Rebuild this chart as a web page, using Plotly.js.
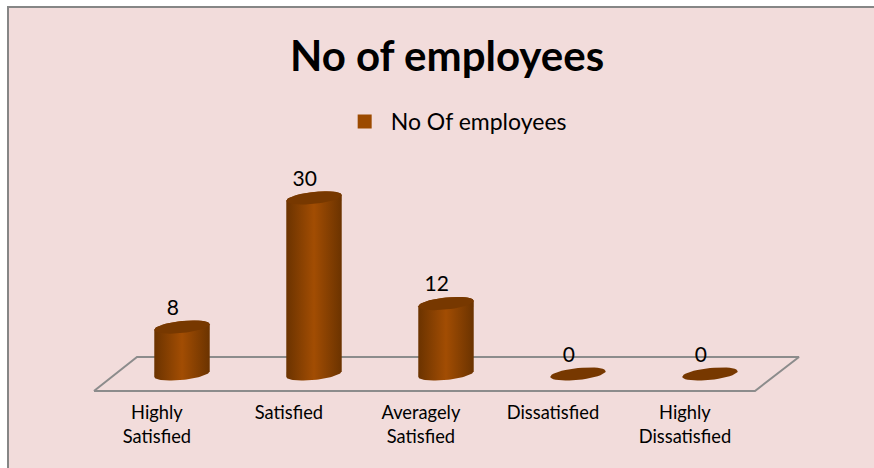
<!DOCTYPE html>
<html>
<head>
<meta charset="utf-8">
<script src="https://cdn.plot.ly/plotly-3.0.1.min.js"></script>
<style>
  html, body { margin: 0; padding: 0; background: #fff; overflow: hidden; }
  #frame { position: absolute; left: 7px; top: 6px; border-left: 2px solid #868686; border-top: 2px solid #868686; }
  #chart { width: 865px; height: 460px; }
</style>
</head>
<body>
<div id="frame"><div id="chart"></div></div>
<script>
const categories = ["Highly Satisfied", "Satisfied", "Averagely Satisfied", "Dissatisfied", "Highly Dissatisfied"];
const categoryLabels = ["Highly<br>Satisfied", "Satisfied", "Averagely<br>Satisfied", "Dissatisfied", "Highly<br>Dissatisfied"];
const employees = [8, 30, 12, 0, 0];
const seriesName = "No Of employees";

// Cylinder geometry, in axis units
const halfWidth = 0.21;
const rimHeight = 1.02;
const rimSkew = 0.48;
const steps = 40;

const bodyShade = [[0, "#6b3300"], [0.5, "#a24d03"], [1, "#6b3300"]];
const capColor = "#773800";

// Point on a tilted rim; angle 0 is the right end, PI/2 the back of the rim
function rimPoint(cx, level, angle) {
  return [cx + halfWidth * Math.cos(angle), level + rimHeight * Math.sin(angle) + rimSkew * Math.cos(angle)];
}

function arc(cx, level, from, to) {
  const pts = [];
  for (let i = 0; i <= steps; i++) pts.push(rimPoint(cx, level, from + (to - from) * i / steps));
  return pts;
}

function polygonTrace(pts, extra) {
  return Object.assign({
    type: "scatter", mode: "lines", fill: "toself", hoverinfo: "skip", showlegend: false,
    x: pts.map(p => p[0]), y: pts.map(p => p[1]), line: { width: 0 }
  }, extra);
}

const traces = [];

// Floor of the plot, a flat parallelogram behind the columns
traces.push({
  type: "scatter", mode: "lines", hoverinfo: "skip", showlegend: false,
  x: [-0.667, -0.341, 4.674, 4.341, -0.667],
  y: [-2.9, 2.9, 2.9, -2.9, -2.9],
  line: { color: "#8c8c8c", width: 2 }
});

// Columns: body with a horizontal shade, then the darker top rim
employees.forEach((value, i) => {
  if (value > 0) {
    const body = arc(i, value, 0, Math.PI).concat(arc(i, 0, Math.PI, 2 * Math.PI));
    body.push(body[0]);
    traces.push(polygonTrace(body, {
      fillgradient: { type: "horizontal", colorscale: bodyShade, start: i - halfWidth, stop: i + halfWidth }
    }));
  }
  traces.push(polygonTrace(arc(i, value, 0, 2 * Math.PI), { fillcolor: capColor }));
});

// Value labels above each column
traces.push({
  type: "scatter", mode: "text", hoverinfo: "skip", showlegend: false,
  x: employees.map((v, i) => i - 0.07),
  y: employees.map(v => v + 2.95),
  text: employees.map(String),
  textposition: "middle center",
  textfont: { family: "Lato, Carlito, sans-serif", size: 21, color: "#000" }
});

// Legend entry for the series
traces.push({
  type: "scatter", mode: "markers", name: seriesName, hoverinfo: "skip",
  x: [null], y: [null],
  marker: { symbol: "square", size: 14, color: "#9c4a00" }
});

const layout = {
  width: 865, height: 460,
  margin: { l: 0, r: 0, t: 0, b: 68, pad: 0 },
  paper_bgcolor: "#f2dcdb",
  plot_bgcolor: "rgba(0,0,0,0)",
  title: {
    text: "<b>No of employees</b>",
    font: { family: "Lato, Carlito, sans-serif", size: 42, color: "#000" },
    x: 0.5064, xref: "paper", xanchor: "center",
    y: 0.894, yref: "container", yanchor: "middle"
  },
  showlegend: true,
  legend: {
    x: 0.395, y: 1 - 92 / 392, xanchor: "left", yanchor: "top",
    bgcolor: "rgba(0,0,0,0)",
    font: { family: "Lato, Carlito, sans-serif", size: 23, color: "#000" }
  },
  xaxis: {
    range: [-1.3106, 5.2424], showgrid: false, zeroline: false, showline: false,
    tickmode: "array", tickvals: categories.map((c, i) => i - 0.19),
    ticktext: categoryLabels,
    ticks: "", tickfont: { family: "Lato, Carlito, sans-serif", size: 18.3, color: "#000" },
    fixedrange: true
  },
  yaxis: {
    range: [-4.43, 62.35], visible: false, fixedrange: true
  }
};

Plotly.newPlot("chart", traces, layout, { displayModeBar: false, staticPlot: true }).then(gd => {
  // Pull the legend swatch closer to its label
  const swatch = gd.querySelector(".legendsymbols");
  if (swatch) swatch.setAttribute("transform", "translate(-6,0)");
});
</script>
</body>
</html>
